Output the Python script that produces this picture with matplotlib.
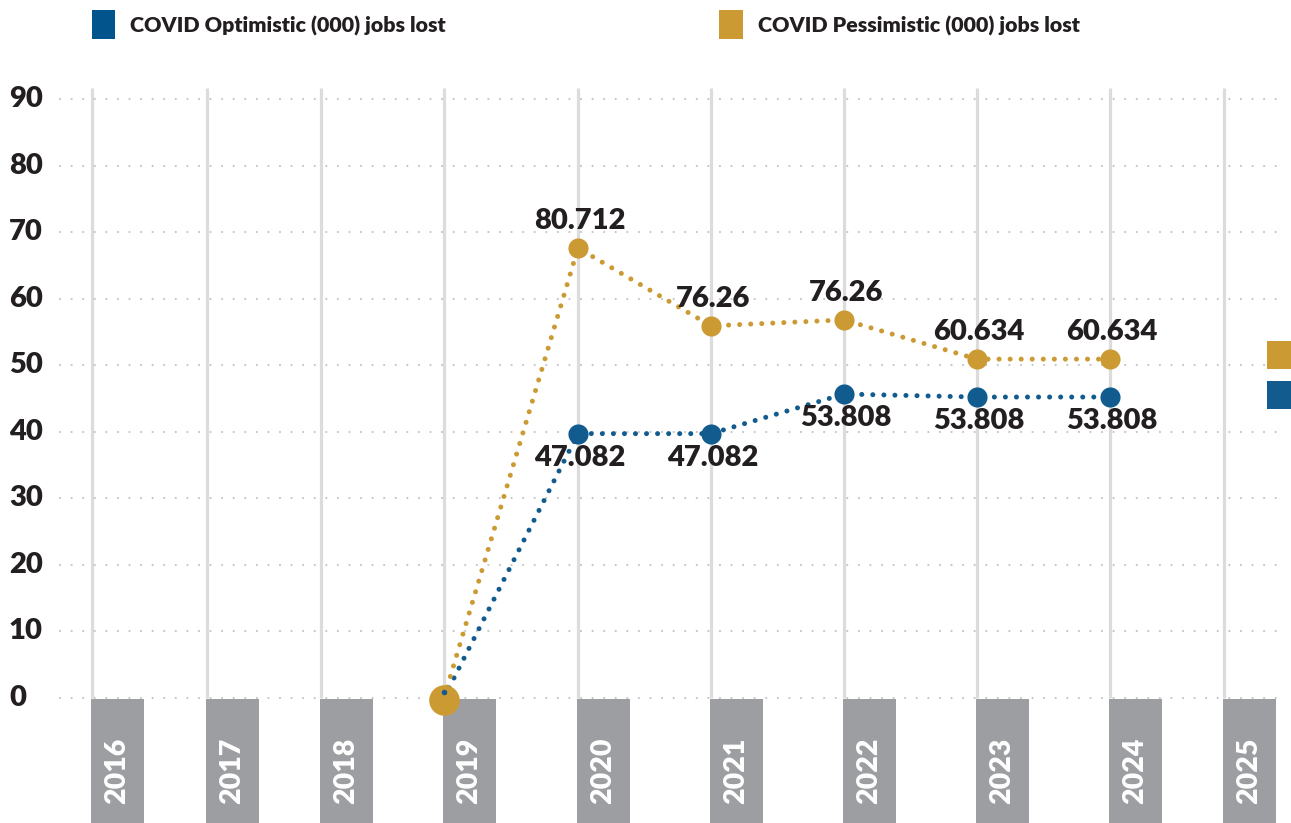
import matplotlib
matplotlib.use("Agg")
import matplotlib.pyplot as plt
from matplotlib.patches import Rectangle

# ---------------- data ----------------
years = ["2016", "2017", "2018", "2019", "2020", "2021", "2022", "2023", "2024", "2025"]
series_years = ["2019", "2020", "2021", "2022", "2023", "2024"]
optimistic = [0.0, 39.7, 39.7, 45.65, 45.2, 45.2]
pessimistic = [0.0, 67.6, 55.9, 56.8, 50.9, 50.9]
optimistic_labels = ["", "47.082", "47.082", "53.808", "53.808", "53.808"]
pessimistic_labels = ["", "80.712", "76.26", "76.26", "60.634", "60.634"]
y_ticks = [0, 10, 20, 30, 40, 50, 60, 70, 80, 90]
legend_names = ["COVID Optimistic (000) jobs lost", "COVID Pessimistic (000) jobs lost"]

# ---------------- style ----------------
BLUE = "#125b8e"
BLUE_LEG = "#02558c"
GOLD = "#cb9a33"
GREY_BAR = "#9d9ea2"
VLINE = "#dcdcdd"
HDOT = "#c4c5c7"
TXT = "#231f20"
FONT = "Lato"
WT = "heavy"

W, H = 1291, 823
fig = plt.figure(figsize=(W / 100, H / 100), dpi=100)

# slot positions (layout of the category axis, in pixel-like units)
slot_x = [91, 206, 320, 443, 577, 710, 843, 976, 1109, 1223]
pos = dict(zip(years, slot_x))

top_px = 88
ax = fig.add_axes([0, 0, 1, 1 - top_px / H])
ax.set_xlim(0, W)
ax.set_ylim(-18.84, 91.66)
ax.axis("off")

# vertical lines
ax.vlines([x + 1 for x in slot_x], 0, 91.66, color=VLINE, lw=2.3, zorder=1)
# horizontal dotted gridlines
for t in y_ticks:
    ax.hlines(t, 60, 1280, color=HDOT, lw=1.6, linestyles=(0, (0.01, 5.2)),
              capstyle="round", zorder=2)
    ax.text(9, t, str(t), ha="left", va="center", fontsize=21, fontweight=WT,
            color=TXT, family=FONT)

# category bars with year labels
ax.bar(slot_x, -18.84, bottom=-0.2, width=53, align="edge", color=GREY_BAR, zorder=3,
       linewidth=0)
for y in years:
    ax.text(pos[y] + 26.5, -11.0, y, rotation=90, ha="center", va="center",
            fontsize=20.5, fontweight=WT, color="white", family=FONT, zorder=4)

xs = [pos[y] + 1 for y in series_years]

def draw_series(vals, color):
    ax.plot(xs, vals, color=color, lw=3.6, linestyle=(0, (0.01, 2.2)),
            dash_capstyle="round", zorder=5)
    ax.plot(xs[1:], vals[1:], "o", color=color, ms=14.5, mec="none", zorder=6)

draw_series(optimistic, BLUE)
draw_series(pessimistic, GOLD)
# start point
ax.plot(xs[0], pessimistic[0] - 0.3, "o", color=GOLD, ms=22, mec="none", zorder=6)
ax.plot(xs[0], optimistic[0] + 0.8, "o", color=BLUE, ms=4, mec="none", zorder=7)

for x, v, lab in zip(xs, pessimistic, pessimistic_labels):
    if lab:
        ax.annotate(lab, (x + 2, v), xytext=(0, 10), textcoords="offset points",
                    ha="center", va="bottom", fontsize=21, fontweight=WT,
                    color=TXT, family=FONT, zorder=8)
for x, v, lab in zip(xs, optimistic, optimistic_labels):
    if lab:
        ax.annotate(lab, (x + 2, v), xytext=(0, -8), textcoords="offset points",
                    ha="center", va="top", fontsize=21, fontweight=WT,
                    color=TXT, family=FONT, zorder=8)

# overlay in pixel coordinates for legend and right markers
ov = fig.add_axes([0, 0, 1, 1])
ov.set_xlim(0, W)
ov.set_ylim(H, 0)
ov.axis("off")
ov.add_patch(Rectangle((92, 10), 23, 29, color=BLUE_LEG, lw=0))
ov.text(130, 26, legend_names[0], ha="left", va="center", fontsize=15.4,
        fontweight=WT, color=TXT, family=FONT)
ov.add_patch(Rectangle((719, 10), 24, 29, color=GOLD, lw=0))
ov.text(758, 26, legend_names[1], ha="left", va="center", fontsize=15.4,
        fontweight=WT, color=TXT, family=FONT)
ov.add_patch(Rectangle((1267, 341), 24, 28, color=GOLD, lw=0))
ov.add_patch(Rectangle((1267, 381), 24, 28, color=BLUE, lw=0))

fig.savefig("out.png", dpi=100)
